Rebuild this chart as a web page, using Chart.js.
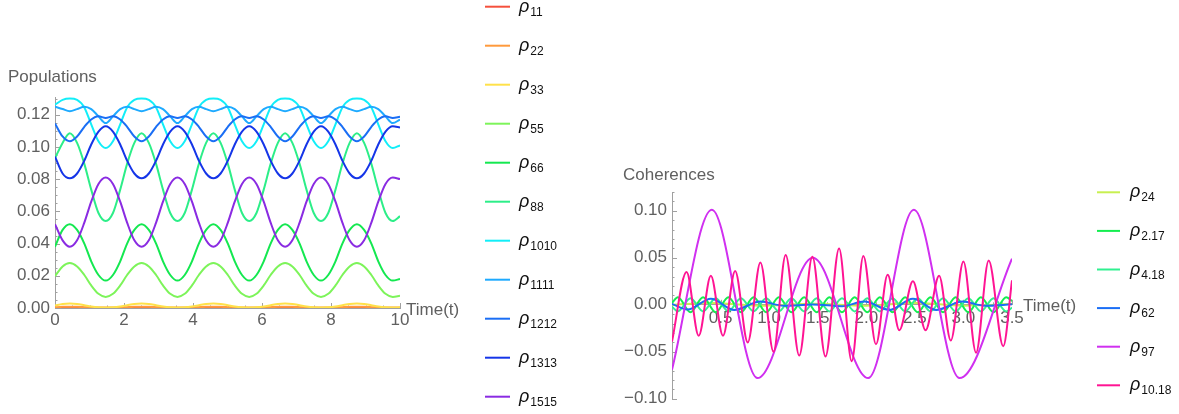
<!DOCTYPE html>
<html>
<head>
<meta charset="utf-8">
<script src="https://cdn.jsdelivr.net/npm/chart.js@4.4.1/dist/chart.umd.min.js"></script>
<style>
  body { margin: 0; background: #fff; }
  #wrap { position: relative; width: 1179px; height: 414px; }
  canvas { position: absolute; top: 0; }
</style>
</head>
<body>
<div id="wrap">
  <canvas id="popChart" width="600" height="414" style="left:0"></canvas>
  <canvas id="cohChart" width="579" height="414" style="left:600px"></canvas>
</div>
<script>
// ---- populations (diagonal elements) ----
const popTimes = [
  0, 0.22, 0.43, 0.64, 0.85, 1.05, 1.26, 1.47, 1.68, 1.89,
  2.09, 2.30, 2.51, 2.72, 2.93, 3.13, 3.34, 3.55, 3.76, 3.97,
  4.17, 4.38, 4.59, 4.80, 5.01, 5.21, 5.42, 5.63, 5.84, 6.05,
  6.25, 6.46, 6.67, 6.88, 7.09, 7.29, 7.50, 7.71, 7.92, 8.13,
  8.33, 8.54, 8.75, 8.96, 9.17, 9.37, 9.58, 9.79, 10.0
];
const rho11 = [
  0.0001, 0.0001, 0.0001, 0.0001, 0.0001, 0.0001, 0.0001, 0.0001, 0.0001, 0.0001,
  0.0001, 0.0001, 0.0001, 0.0001, 0.0001, 0.0001, 0.0001, 0.0001, 0.0001, 0.0001,
  0.0001, 0.0001, 0.0001, 0.0001, 0.0001, 0.0001, 0.0001, 0.0001, 0.0001, 0.0001,
  0.0001, 0.0001, 0.0001, 0.0001, 0.0001, 0.0001, 0.0001, 0.0001, 0.0001, 0.0001,
  0.0001, 0.0001, 0.0001, 0.0001, 0.0001, 0.0001, 0.0001, 0.0001, 0.0001
];
const rho22 = [
  0.0004, 0.0007, 0.0008, 0.0007, 0.0005, 0.0003, 0.0002, 0.0002, 0.0002, 0.0003,
  0.0005, 0.0007, 0.0008, 0.0007, 0.0005, 0.0003, 0.0002, 0.0002, 0.0002, 0.0003,
  0.0005, 0.0007, 0.0008, 0.0007, 0.0005, 0.0003, 0.0002, 0.0002, 0.0002, 0.0003,
  0.0005, 0.0007, 0.0008, 0.0007, 0.0005, 0.0003, 0.0002, 0.0002, 0.0002, 0.0003,
  0.0005, 0.0007, 0.0008, 0.0007, 0.0005, 0.0003, 0.0002, 0.0002, 0.0002
];
const rho33 = [
  0.0015, 0.0025, 0.0028, 0.0025, 0.0017, 0.0009, 0.0004, 0.0003, 0.0004, 0.0009,
  0.0017, 0.0025, 0.0028, 0.0025, 0.0017, 0.0009, 0.0004, 0.0003, 0.0004, 0.0009,
  0.0017, 0.0025, 0.0028, 0.0025, 0.0017, 0.0009, 0.0004, 0.0003, 0.0004, 0.0009,
  0.0017, 0.0025, 0.0028, 0.0025, 0.0017, 0.0009, 0.0004, 0.0003, 0.0004, 0.0009,
  0.0017, 0.0025, 0.0028, 0.0025, 0.0017, 0.0009, 0.0004, 0.0003, 0.0004
];
const rho55 = [
  0.0198, 0.0258, 0.0279, 0.0258, 0.0205, 0.0140, 0.0088, 0.0069, 0.0088, 0.0140,
  0.0205, 0.0258, 0.0279, 0.0258, 0.0205, 0.0140, 0.0088, 0.0069, 0.0088, 0.0140,
  0.0205, 0.0258, 0.0279, 0.0258, 0.0205, 0.0140, 0.0088, 0.0069, 0.0088, 0.0140,
  0.0205, 0.0258, 0.0279, 0.0258, 0.0205, 0.0140, 0.0088, 0.0069, 0.0088, 0.0140,
  0.0205, 0.0258, 0.0279, 0.0258, 0.0205, 0.0140, 0.0088, 0.0069, 0.0076
];
const rho66 = [
  0.0380, 0.0485, 0.0520, 0.0485, 0.0400, 0.0290, 0.0205, 0.0170, 0.0205, 0.0290,
  0.0400, 0.0485, 0.0520, 0.0485, 0.0400, 0.0290, 0.0205, 0.0170, 0.0205, 0.0290,
  0.0400, 0.0485, 0.0520, 0.0485, 0.0400, 0.0290, 0.0205, 0.0170, 0.0205, 0.0290,
  0.0400, 0.0485, 0.0520, 0.0485, 0.0400, 0.0290, 0.0205, 0.0170, 0.0205, 0.0290,
  0.0400, 0.0485, 0.0520, 0.0485, 0.0400, 0.0290, 0.0205, 0.0170, 0.0180
];
const rho88 = [
  0.0930, 0.1025, 0.1085, 0.1025, 0.0895, 0.0735, 0.0590, 0.0540, 0.0590, 0.0735,
  0.0895, 0.1025, 0.1085, 0.1025, 0.0895, 0.0735, 0.0590, 0.0540, 0.0590, 0.0735,
  0.0895, 0.1025, 0.1085, 0.1025, 0.0895, 0.0735, 0.0590, 0.0540, 0.0590, 0.0735,
  0.0895, 0.1025, 0.1085, 0.1025, 0.0895, 0.0735, 0.0590, 0.0540, 0.0590, 0.0735,
  0.0895, 0.1025, 0.1085, 0.1025, 0.0895, 0.0735, 0.0590, 0.0540, 0.0570
];
const rho1010 = [
  0.1262, 0.1292, 0.1300, 0.1292, 0.1245, 0.1140, 0.1035, 0.0993, 0.1035, 0.1140,
  0.1245, 0.1292, 0.1300, 0.1292, 0.1245, 0.1140, 0.1035, 0.0993, 0.1035, 0.1140,
  0.1245, 0.1292, 0.1300, 0.1292, 0.1245, 0.1140, 0.1035, 0.0993, 0.1035, 0.1140,
  0.1245, 0.1292, 0.1300, 0.1292, 0.1245, 0.1140, 0.1035, 0.0993, 0.1035, 0.1140,
  0.1245, 0.1292, 0.1300, 0.1292, 0.1245, 0.1140, 0.1035, 0.0993, 0.1010
];
const rho1111 = [
  0.1250, 0.1235, 0.1222, 0.1235, 0.1250, 0.1235, 0.1190, 0.1148, 0.1190, 0.1235,
  0.1250, 0.1235, 0.1222, 0.1235, 0.1250, 0.1235, 0.1190, 0.1148, 0.1190, 0.1235,
  0.1250, 0.1235, 0.1222, 0.1235, 0.1250, 0.1235, 0.1190, 0.1148, 0.1190, 0.1235,
  0.1250, 0.1235, 0.1222, 0.1235, 0.1250, 0.1235, 0.1190, 0.1148, 0.1190, 0.1235,
  0.1250, 0.1235, 0.1222, 0.1235, 0.1250, 0.1235, 0.1190, 0.1148, 0.1170
];
const rho1212 = [
  0.1145, 0.1065, 0.1035, 0.1065, 0.1125, 0.1170, 0.1190, 0.1180, 0.1190, 0.1170,
  0.1125, 0.1065, 0.1035, 0.1065, 0.1125, 0.1170, 0.1190, 0.1180, 0.1190, 0.1170,
  0.1125, 0.1065, 0.1035, 0.1065, 0.1125, 0.1170, 0.1190, 0.1180, 0.1190, 0.1170,
  0.1125, 0.1065, 0.1035, 0.1065, 0.1125, 0.1170, 0.1190, 0.1180, 0.1190, 0.1170,
  0.1125, 0.1065, 0.1035, 0.1065, 0.1125, 0.1170, 0.1190, 0.1180, 0.1188
];
const rho1313 = [
  0.0940, 0.0835, 0.0805, 0.0835, 0.0915, 0.1015, 0.1095, 0.1128, 0.1095, 0.1015,
  0.0915, 0.0835, 0.0805, 0.0835, 0.0915, 0.1015, 0.1095, 0.1128, 0.1095, 0.1015,
  0.0915, 0.0835, 0.0805, 0.0835, 0.0915, 0.1015, 0.1095, 0.1128, 0.1095, 0.1015,
  0.0915, 0.0835, 0.0805, 0.0835, 0.0915, 0.1015, 0.1095, 0.1128, 0.1095, 0.1015,
  0.0915, 0.0835, 0.0805, 0.0835, 0.0915, 0.1015, 0.1095, 0.1128, 0.1120
];
const rho1515 = [
  0.052, 0.042, 0.038, 0.042, 0.053, 0.066, 0.077, 0.081, 0.077, 0.066,
  0.053, 0.042, 0.038, 0.042, 0.053, 0.066, 0.077, 0.081, 0.077, 0.066,
  0.053, 0.042, 0.038, 0.042, 0.053, 0.066, 0.077, 0.081, 0.077, 0.066,
  0.053, 0.042, 0.038, 0.042, 0.053, 0.066, 0.077, 0.081, 0.077, 0.066,
  0.053, 0.042, 0.038, 0.042, 0.053, 0.066, 0.077, 0.081, 0.080
];
const popNames = ['11', '22', '33', '55', '66', '88', '1010', '1111', '1212', '1313', '1515'];
const popSeries = [rho11, rho22, rho33, rho55, rho66, rho88, rho1010, rho1111, rho1212, rho1313, rho1515];
const popColors = ['#f5503c', '#ff9a3c', '#ffe14a', '#7df45a', '#14e850', '#2cee88',
                   '#12eef8', '#1eaaff', '#1a6ef5', '#1535e8', '#8a2be2'];
const popXTicks = [0, 2, 4, 6, 8, 10];
const popYTicks = [0, 0.02, 0.04, 0.06, 0.08, 0.10, 0.12];

// ---- coherences (off-diagonal elements), turning points of each curve ----
const rho24T = [0, 0.40, 0.90, 1.45, 2.00, 2.50, 3.00, 3.50];
const rho24V = [0.000, 0.002, -0.001, 0.001, -0.001, 0.002, -0.001, 0.001];
const rho217T = [0, 0.06, 0.19, 0.32, 0.45, 0.58, 0.71, 0.84, 0.97, 1.10, 1.23, 1.36, 1.49, 1.62,
                 1.75, 1.88, 2.01, 2.14, 2.27, 2.40, 2.53, 2.66, 2.79, 2.92, 3.05, 3.18, 3.31, 3.44, 3.5];
const rho217V = [0.002, 0.008, -0.008, 0.008, -0.008, 0.008, -0.008, 0.008, -0.008, 0.008, -0.008,
                 0.008, -0.008, 0.008, -0.008, 0.008, -0.008, 0.008, -0.008, 0.008, -0.008, 0.008,
                 -0.008, 0.008, -0.008, 0.008, -0.008, 0.008, 0.004];
const rho418T = rho217T;
const rho418V = [-0.002, -0.007, 0.007, -0.007, 0.007, -0.007, 0.007, -0.007, 0.007, -0.007, 0.007,
                 -0.007, 0.007, -0.007, 0.007, -0.007, 0.007, -0.007, 0.007, -0.007, 0.007, -0.007,
                 0.007, -0.007, 0.007, -0.007, 0.007, -0.007, -0.003];
const rho62T = [0, 0.16, 0.40, 0.64, 0.91, 1.15, 1.45, 1.75, 1.98, 2.24, 2.48, 2.72, 2.99, 3.22, 3.5];
const rho62V = [0.001, -0.005, 0.0065, -0.0055, 0.0035, -0.001, 0.0003, -0.0015, 0.0035, -0.0055,
                0.0065, -0.0055, 0.0035, -0.001, 0.0005];
const rho97T = [0, 0.41, 0.88, 1.45, 2.02, 2.49, 2.96, 3.5];
const rho97V = [-0.069, 0.101, -0.078, 0.050, -0.078, 0.101, -0.078, 0.049];
const rho1018T = [0, 0.15, 0.275, 0.40, 0.525, 0.65, 0.78, 0.91, 1.045, 1.17, 1.31, 1.445, 1.58, 1.72,
                  1.85, 1.97, 2.10, 2.22, 2.34, 2.48, 2.61, 2.75, 2.87, 3.0, 3.13, 3.26, 3.41, 3.5];
const rho1018V = [-0.039, 0.035, -0.033, 0.031, -0.033, 0.036, -0.040, 0.045, -0.050, 0.053, -0.054,
                  0.051, -0.055, 0.060, -0.060, 0.052, -0.042, 0.032, -0.027, 0.025, -0.027, 0.031,
                  -0.038, 0.046, -0.051, 0.047, -0.044, 0.026];
const cohNames = ['24', '2.17', '4.18', '62', '97', '10.18'];
const cohTimes = [rho24T, rho217T, rho418T, rho62T, rho97T, rho1018T];
const cohSeries = [rho24V, rho217V, rho418V, rho62V, rho97V, rho1018V];
const cohColors = ['#c8f050', '#14ee50', '#30f090', '#1a6ef5', '#d030f0', '#ff1493'];
const cohXTicks = [0.5, 1.0, 1.5, 2.0, 2.5, 3.0, 3.5];
const cohYTicks = [-0.10, -0.05, 0, 0.05, 0.10];

const FONT = '"Liberation Sans", Arial, sans-serif';
const AXIS_GREY = '#a0a0a0';
const LABEL_GREY = '#606060';

function range(a, b, step) {
  const out = [];
  for (let v = a; v <= b + step / 2; v += step) out.push(+v.toFixed(4));
  return out;
}

// inward tick marks, axis labels and the legend column
const decor = {
  id: 'decor',
  beforeDatasetsDraw(chart, args, o) {
    const {ctx, chartArea, scales: {x, y}} = chart;
    const ay = o.xAxisAtZero ? y.getPixelForValue(0) : chartArea.bottom;
    const ax = chartArea.left;
    ctx.save();
    ctx.strokeStyle = AXIS_GREY;
    ctx.lineWidth = 1;
    ctx.beginPath();
    const mark = (vals, len, isX) => vals.forEach(v => {
      if (isX) {
        const px = Math.round(x.getPixelForValue(v)) + 0.5;
        ctx.moveTo(px, ay); ctx.lineTo(px, ay - len);
      } else {
        const py = Math.round(y.getPixelForValue(v)) + 0.5;
        ctx.moveTo(ax, py); ctx.lineTo(ax + len, py);
      }
    });
    mark(o.xMinor, 2.5, true);
    mark(o.yMinor, 2.5, false);
    mark(o.xMajor, 5, true);
    mark(o.yMajor, 5, false);
    ctx.stroke();
    ctx.restore();
  },
  afterDraw(chart, args, o) {
    const {ctx, chartArea, scales: {x, y}} = chart;
    const ay = o.xAxisAtZero ? y.getPixelForValue(0) : chartArea.bottom;
    ctx.save();
    ctx.fillStyle = LABEL_GREY;
    ctx.font = '17px ' + FONT;
    ctx.textBaseline = 'middle';
    ctx.textAlign = 'left';
    ctx.fillText(o.yTitle, chartArea.left + o.yTitleDx, chartArea.top + o.yTitleDy);
    ctx.fillText('Time(t)', chartArea.right + o.xTitleDx, ay + 2);

    // legend
    chart.data.datasets.forEach((ds, i) => {
      const ly = o.legend.y0 + i * o.legend.dy;
      ctx.strokeStyle = ds.borderColor;
      ctx.lineWidth = 2;
      ctx.beginPath();
      ctx.moveTo(o.legend.x0, ly);
      ctx.lineTo(o.legend.x1, ly);
      ctx.stroke();
      ctx.fillStyle = '#111';
      ctx.font = 'italic 18px ' + FONT;
      ctx.textBaseline = 'alphabetic';
      ctx.fillText('\u03c1', o.legend.tx, ly + 5);
      const w = ctx.measureText('\u03c1').width;
      ctx.font = '12px ' + FONT;
      ctx.fillText(ds.label, o.legend.tx + w + 1, ly + 9);
    });
    ctx.restore();
  }
};

const tickFont = {family: FONT, size: 17};

new Chart(document.getElementById('popChart'), {
  type: 'line',
  data: {
    datasets: popSeries.map((vals, i) => ({
      label: popNames[i],
      data: popTimes.map((t, k) => ({x: t, y: vals[k]})),
      borderColor: popColors[i],
      borderWidth: 2,
      pointRadius: 0,
      fill: false,
      cubicInterpolationMode: 'monotone',
      order: popSeries.length - i
    }))
  },
  options: {
    responsive: false,
    animation: false,
    layout: {padding: {top: 97, right: 200, left: 0, bottom: 0}},
    plugins: {
      legend: {display: false},
      tooltip: {enabled: false},
      decor: {
        xAxisAtZero: false,
        xMajor: popXTicks, xMinor: range(0, 10, 0.5),
        yMajor: popYTicks, yMinor: range(0, 0.13, 0.005),
        yTitle: 'Populations', yTitleDx: -47, yTitleDy: -20, xTitleDx: 6,
        legend: {x0: 485, x1: 510, tx: 519, y0: 6.7, dy: 39}
      }
    },
    scales: {
      x: {
        type: 'linear', min: 0, max: 10,
        afterFit: s => { s.height = 106; },
        afterBuildTicks: s => { s.ticks = popXTicks.map(v => ({value: v})); },
        grid: {display: false, drawTicks: false},
        border: {color: AXIS_GREY},
        ticks: {color: LABEL_GREY, font: tickFont, padding: 2, maxRotation: 0, autoSkip: false,
                callback: v => String(v)}
      },
      y: {
        type: 'linear', min: 0, max: 0.131,
        afterFit: s => { s.width = 55; },
        afterBuildTicks: s => { s.ticks = popYTicks.map(v => ({value: v})); },
        grid: {display: false, drawTicks: false},
        border: {color: AXIS_GREY},
        ticks: {color: LABEL_GREY, font: tickFont, padding: 5, callback: v => v.toFixed(2)}
      }
    }
  },
  plugins: [decor]
});

new Chart(document.getElementById('cohChart'), {
  type: 'line',
  data: {
    datasets: cohSeries.map((vals, i) => ({
      label: cohNames[i],
      data: cohTimes[i].map((t, k) => ({x: t, y: vals[k]})),
      borderColor: cohColors[i],
      borderWidth: 2,
      pointRadius: 0,
      fill: false,
      cubicInterpolationMode: 'monotone',
      order: cohSeries.length - i
    }))
  },
  options: {
    responsive: false,
    animation: false,
    layout: {padding: {top: 192, right: 167, left: 0, bottom: 12}},
    plugins: {
      legend: {display: false},
      tooltip: {enabled: false},
      decor: {
        xAxisAtZero: true,
        xMajor: cohXTicks, xMinor: range(0.1, 3.5, 0.1),
        yMajor: cohYTicks, yMinor: range(-0.10, 0.12, 0.01),
        yTitle: 'Coherences', yTitleDx: -49, yTitleDy: -17, xTitleDx: 11,
        legend: {x0: 497, x1: 520, tx: 530, y0: 192.3, dy: 38.6}
      }
    },
    scales: {
      x: {
        type: 'linear', min: 0, max: 3.5,
        position: {y: 0},
        afterBuildTicks: s => { s.ticks = cohXTicks.map(v => ({value: v})); },
        grid: {display: false, drawTicks: false},
        border: {color: AXIS_GREY},
        ticks: {color: LABEL_GREY, font: tickFont, padding: 3, maxRotation: 0, autoSkip: false,
                callback: v => v.toFixed(1)}
      },
      y: {
        type: 'linear', min: -0.10, max: 0.12,
        afterFit: s => { s.width = 72; },
        afterBuildTicks: s => { s.ticks = cohYTicks.map(v => ({value: v})); },
        grid: {display: false, drawTicks: false},
        border: {color: AXIS_GREY},
        ticks: {color: LABEL_GREY, font: tickFont, padding: 5,
                callback: v => (v < 0 ? '\u2212' : '') + Math.abs(v).toFixed(2)}
      }
    }
  },
  plugins: [decor]
});
</script>
</body>
</html>
